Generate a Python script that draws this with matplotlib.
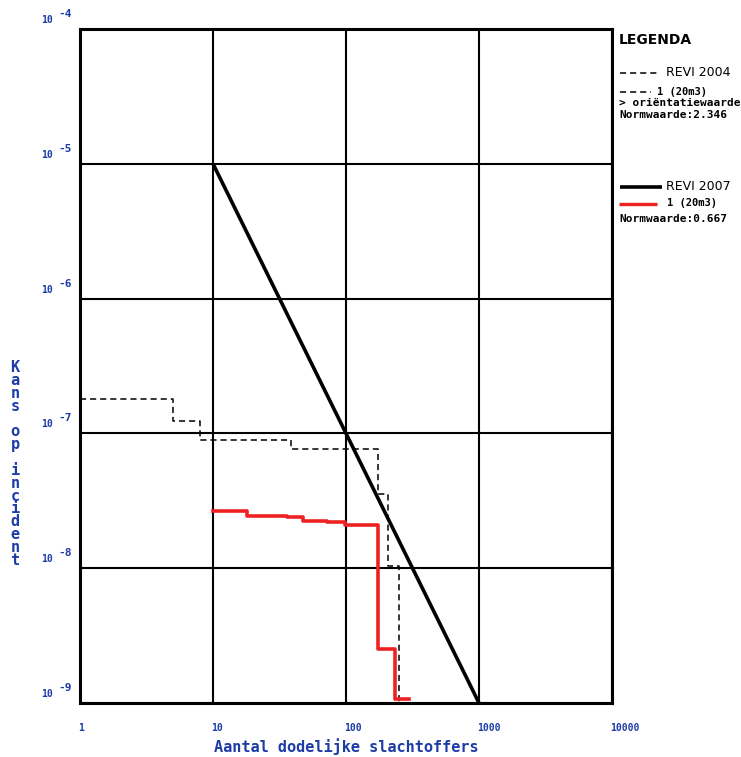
import matplotlib
matplotlib.use("Agg")
import matplotlib.pyplot as plt
from matplotlib.lines import Line2D
from matplotlib.transforms import offset_copy

# gegevens
x_ticks = [1, 10, 100, 1000, 10000]
x_tick_labels = ["1", "10", "100", "1000", "10000"]
y_ticks = [1e-4, 1e-5, 1e-6, 1e-7, 1e-8, 1e-9]
y_exponents = ["-4", "-5", "-6", "-7", "-8", "-9"]

# orientatiewaarde REVI 2007: F = 1e-3 / N^2
revi2007_n = [10, 1000]
revi2007_f = [1e-5, 1e-9]

# REVI 2004 (stippellijn)
revi2004_n = [1, 5, 8, 38.6, 174, 207, 250]
revi2004_f = [1.79e-7, 1.23e-7, 9.0e-8, 7.6e-8, 3.53e-8, 1.03e-8, 1e-9]

# REVI 2007 (rood)
revi2007_case_n = [10, 18, 36, 47.5, 72, 98, 174, 234, 298]
revi2007_case_f = [2.64e-8, 2.43e-8, 2.39e-8, 2.25e-8, 2.19e-8, 2.09e-8,
                   2.51e-9, 1.07e-9, 1.07e-9]

BLUE = "#1e3ca8"
RED = "#ee2222"
MONO = "DejaVu Sans Mono"

W, H = 741, 757
fig = plt.figure(figsize=(W / 100, H / 100), dpi=100)


def fx(px):
    return px / W


def fy(py):
    return 1 - py / H


ax = fig.add_axes([fx(80), fy(703), fx(612) - fx(80), fy(29) - fy(703)])
ax.set_xscale("log")
ax.set_yscale("log")
ax.set_xlim(1, 10000)
ax.set_ylim(1e-9, 1e-4)
ax.set_xticks(x_ticks)
ax.set_yticks(y_ticks)
ax.minorticks_off()
ax.tick_params(length=0, labelbottom=False, labelleft=False)
ax.grid(True, color="black", lw=1.5)
for s in ax.spines.values():
    s.set_linewidth(2.2)

ax.plot(revi2007_n, revi2007_f, color="black", lw=2.6, solid_capstyle="butt")
ax.step(revi2004_n, revi2004_f, where="post", color="black", lw=1.1,
        dashes=(4, 2.6))
ax.step(revi2007_case_n, revi2007_case_f, where="post", color=RED, lw=2.6)

# tick labels
tx = offset_copy(ax.get_xaxis_transform(), fig=fig, x=-2, y=-25, units="dots")
for v, lab in zip(x_ticks, x_tick_labels):
    ax.text(v, 0, lab, transform=tx, ha="left", va="center", color=BLUE,
            family=MONO, weight="bold", fontsize=7)

t10 = offset_copy(ax.get_yaxis_transform(), fig=fig, x=-33, y=9, units="dots")
texp = offset_copy(ax.get_yaxis_transform(), fig=fig, x=-15, y=15, units="dots")
for v, e in zip(y_ticks, y_exponents):
    ax.text(0, v, "10", transform=t10, ha="center", va="center", color=BLUE,
            family=MONO, weight="bold", fontsize=7)
    ax.text(0, v, e, transform=texp, ha="center", va="center", color=BLUE,
            family=MONO, weight="bold", fontsize=8)

# as-titels
fig.text(fx(346), fy(747), "Aantal dodelijke slachtoffers", ha="center",
         va="center", color=BLUE, family=MONO, weight="bold", fontsize=11)
fig.text(fx(15), fy(464), "\n".join("Kans op incident"), ha="center",
         va="center", color=BLUE, family=MONO, weight="bold", fontsize=11,
         linespacing=0.82)

# legenda
fig.text(fx(619), fy(40), "LEGENDA", ha="left", va="center", weight="bold",
         fontsize=10)
fig.add_artist(Line2D([fx(620), fx(658)], [fy(73), fy(73)], color="black",
                      lw=1.1, dashes=(4, 2.6)))
fig.text(fx(666), fy(73), "REVI 2004", ha="left", va="center", fontsize=9)
fig.add_artist(Line2D([fx(620), fx(651)], [fy(92), fy(92)], color="black",
                      lw=1.1, dashes=(4, 2.6)))
fig.text(fx(657), fy(92), "1 (20m3)", ha="left", va="center", family=MONO,
         weight="bold", fontsize=7.5)
fig.text(fx(619), fy(103), "> ori\u00ebntatiewaarde", ha="left", va="center",
         family=MONO, weight="bold", fontsize=8)
fig.text(fx(619), fy(115), "Normwaarde:2.346", ha="left", va="center",
         family=MONO, weight="bold", fontsize=8)

fig.add_artist(Line2D([fx(620), fx(662)], [fy(187), fy(187)], color="black",
                      lw=2.6, solid_capstyle="butt"))
fig.text(fx(666), fy(187), "REVI 2007", ha="left", va="center", fontsize=9)
fig.add_artist(Line2D([fx(619), fx(657)], [fy(204), fy(204)], color=RED,
                      lw=2.4, solid_capstyle="butt"))
fig.text(fx(667), fy(203), "1 (20m3)", ha="left", va="center", family=MONO,
         weight="bold", fontsize=7.5)
fig.text(fx(619), fy(219), "Normwaarde:0.667", ha="left", va="center",
         family=MONO, weight="bold", fontsize=8)

fig.savefig("out.png", dpi=100)
